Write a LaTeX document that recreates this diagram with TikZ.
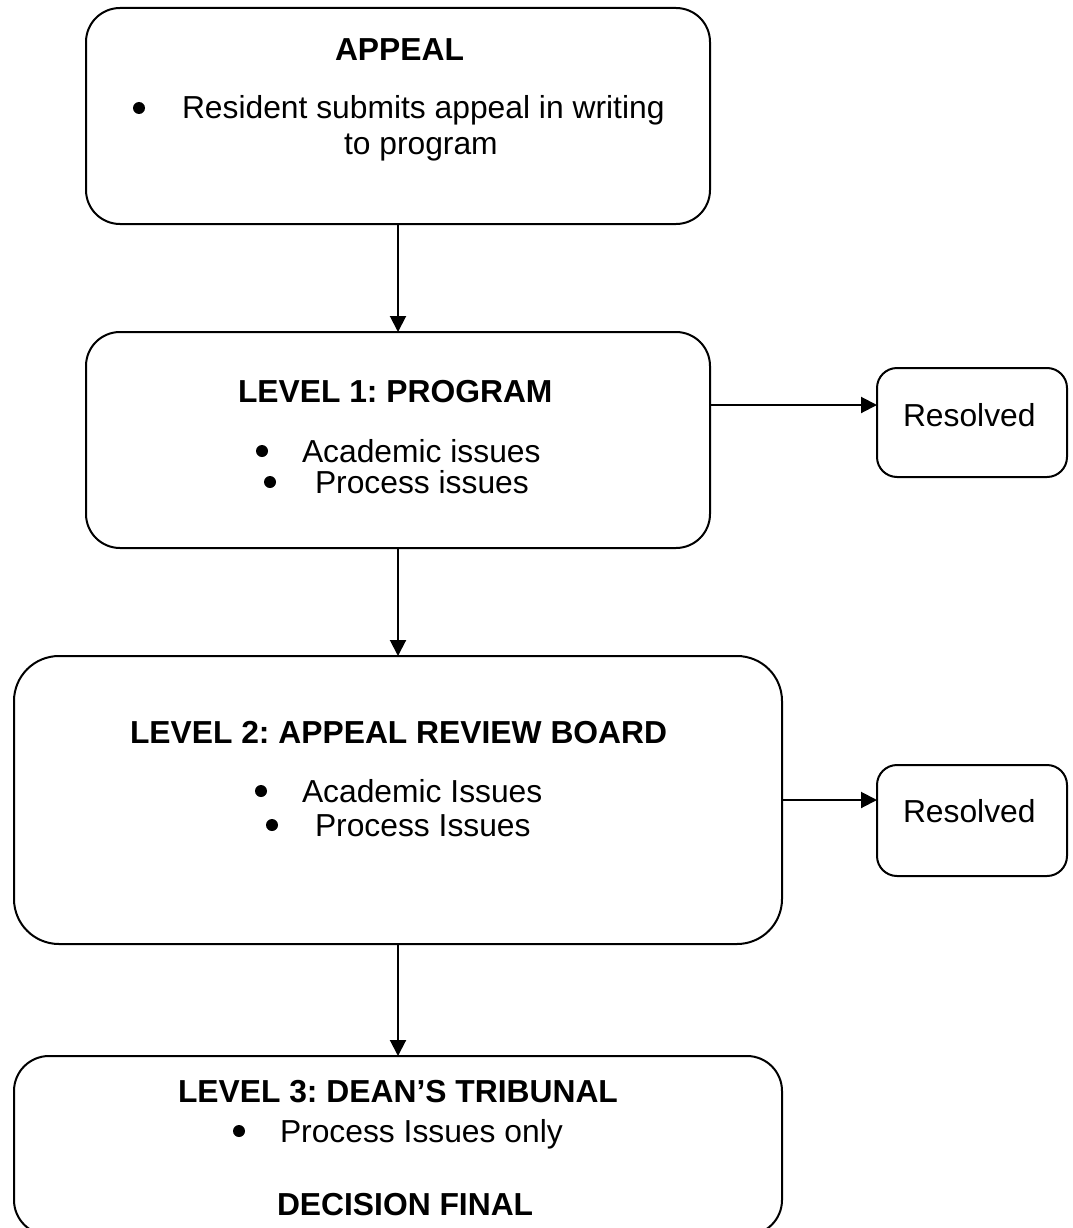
\documentclass[tikz,border=0pt]{standalone}
\usepackage{fontspec}
\setmainfont{Liberation Sans}
\usetikzlibrary{arrows.meta}
\frenchspacing

\begin{document}
\begin{tikzpicture}[x=1pt,y=-1pt,
  box/.style={draw, line width=2pt, inner sep=0pt, outer sep=0pt},
  lbl/.style={inner sep=0pt, outer sep=0pt, anchor=base west,
              font=\fontsize{31.8}{38}\selectfont},
  head/.style={lbl, font=\fontsize{31.8}{38}\selectfont\bfseries},
  dot/.style={fill=black},
  flow/.style={line width=2pt, -{Triangle[length=16pt,width=16pt]}}
]
\useasboundingbox (0,0) rectangle (1072,1228);

% boxes
\node[box, rounded corners=34pt, minimum width=624pt, minimum height=216pt] (appeal) at (398,116) {};
\node[box, rounded corners=34pt, minimum width=624pt, minimum height=216pt] (lvlone) at (398,440) {};
\node[box, rounded corners=45pt, minimum width=768pt, minimum height=288pt] (lvltwo) at (398,800) {};
\node[box, rounded corners=35pt, minimum width=768pt, minimum height=179pt] (lvlthree) at (398,1145.5) {};
\node[box, rounded corners=20pt, minimum width=190pt, minimum height=109pt] (resA) at (972,422.5) {};
\node[box, rounded corners=20pt, minimum width=190pt, minimum height=111pt] (resB) at (972,820.5) {};

% APPEAL
\node[head] (tAppeal) at (335,61) {APPEAL};
\fill[dot] (139,108) circle (6pt);
\node[lbl] (tRes1) at (182,119) {Resident submits appeal in writing};
\node[lbl] (tRes2) at (344,154) {to program};

% LEVEL 1
\node[head] (tL1) at (238,402) {LEVEL 1: PROGRAM};
\fill[dot] (262,451) circle (6pt);
\node[lbl] (tL1a) at (302,462) {Academic issues};
\fill[dot] (270,482) circle (6pt);
\node[lbl] (tL1b) at (315,493) {Process issues};

% LEVEL 2
\node[head] (tL2) at (130,743) {LEVEL 2: APPEAL REVIEW BOARD};
\fill[dot] (261,791) circle (6pt);
\node[lbl] (tL2a) at (302,802) {Academic Issues};
\fill[dot] (272,825) circle (6pt);
\node[lbl] (tL2b) at (315,836) {Process Issues};

% LEVEL 3
\node[head] (tL3) at (178,1102) {LEVEL 3: DEAN’S TRIBUNAL};
\fill[dot] (239,1131) circle (6pt);
\node[lbl] (tL3a) at (280,1142) {Process Issues only};
\node[head] (tL3b) at (277,1215) {DECISION FINAL};

% resolved labels
\node[lbl] (tResA) at (903,426) {Resolved};
\node[lbl] (tResB) at (903,822) {Resolved};

% connectors
\coordinate (sideA) at (0,405);
\draw[flow] (appeal.south) -- (lvlone.north);
\draw[flow] (lvlone.south) -- (lvltwo.north);
\draw[flow] (lvltwo.south) -- (lvlthree.north);
\draw[flow] (lvlone.east |- sideA) -- (resA.west |- sideA);
\draw[flow] (lvltwo.east) -- (resB.west |- lvltwo.east);
\end{tikzpicture}
\end{document}
